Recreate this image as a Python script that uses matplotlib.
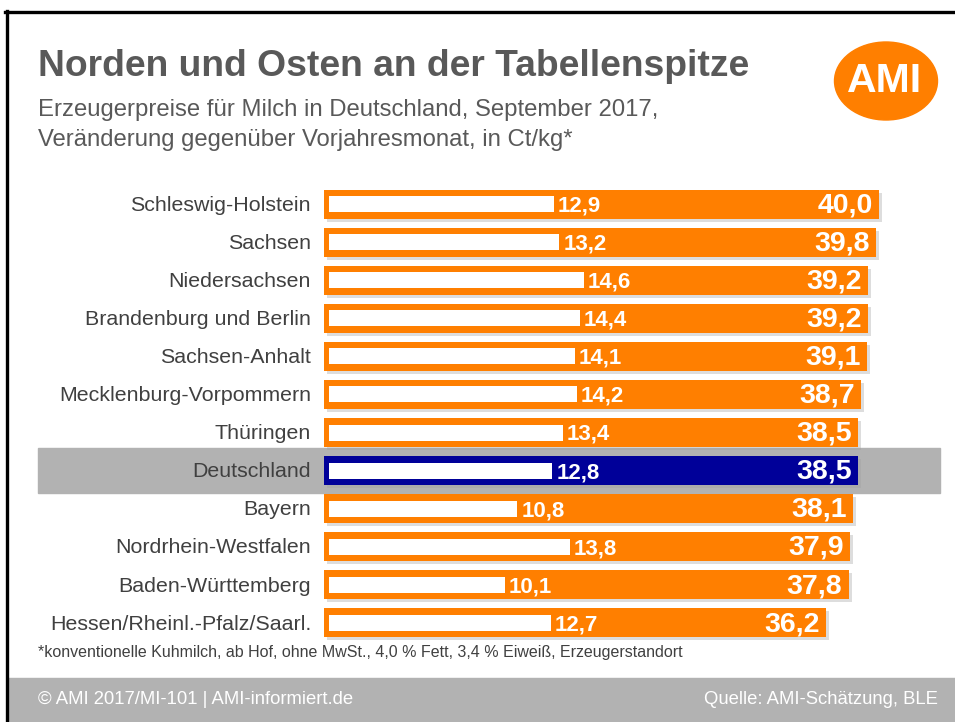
import matplotlib
matplotlib.use("Agg")
import matplotlib.pyplot as plt
from matplotlib.patches import Rectangle, Ellipse
from matplotlib.lines import Line2D
import matplotlib.transforms as mtransforms

# ---- data ----
regions = ["Schleswig-Holstein", "Sachsen", "Niedersachsen", "Brandenburg und Berlin",
           "Sachsen-Anhalt", "Mecklenburg-Vorpommern", "Thüringen", "Deutschland",
           "Bayern", "Nordrhein-Westfalen", "Baden-Württemberg", "Hessen/Rheinl.-Pfalz/Saarl."]
price_sep2017 = [40.0, 39.8, 39.2, 39.2, 39.1, 38.7, 38.5, 38.5, 38.1, 37.9, 37.8, 36.2]
change_vs_prev = [12.9, 13.2, 14.6, 14.4, 14.1, 14.2, 13.4, 12.8, 10.8, 13.8, 10.1, 12.7]
highlight = "Deutschland"

title = "Norden und Osten an der Tabellenspitze"
subtitle = "Erzeugerpreise für Milch in Deutschland, September 2017,\nVeränderung gegenüber Vorjahresmonat, in Ct/kg*"
footnote = "*konventionelle Kuhmilch, ab Hof, ohne MwSt., 4,0 % Fett, 3,4 % Eiweiß, Erzeugerstandort"
footer_left = "© AMI 2017/MI-101 | AMI-informiert.de"
footer_right = "Quelle: AMI-Schätzung, BLE"

plt.rcParams['font.family'] = ['Liberation Sans', 'DejaVu Sans']

W, H = 955, 722
fig = plt.figure(figsize=(W / 100, H / 100), dpi=100)
fig.patch.set_facecolor("white")

def fx(px):
    return px / W

def fy(py):
    return 1 - py / H

ORANGE = "#ff7f00"
BLUE = "#000099"
GREY_TXT = "#404040"
TITLE_C = "#595959"

# ---- frame ----
fig.add_artist(Line2D([fx(5), fx(955)], [fy(12), fy(12)], color="black", lw=2.4, transform=fig.transFigure))
fig.add_artist(Line2D([fx(7), fx(7)], [fy(11), fy(722)], color="black", lw=2.4, transform=fig.transFigure))

# ---- footer band ----
fig.add_artist(Rectangle((fx(8), 0), fx(955) - fx(8), fy(678), color="#b2b2b2",
                         transform=fig.transFigure, zorder=0))
fig.text(fx(38), fy(700), footer_left, color="white", fontsize=13.3, va="center", ha="left")
fig.text(fx(938), fy(700), footer_right, color="white", fontsize=13.3, va="center", ha="right")

# ---- title / subtitle ----
fig.text(fx(38), fy(66), title, color=TITLE_C, fontsize=26.8, fontweight="bold", va="center", ha="left")
fig.text(fx(38), fy(110), subtitle.split("\n")[0], color=TITLE_C, fontsize=17.2, va="center", ha="left")
fig.text(fx(38), fy(140), subtitle.split("\n")[1], color=TITLE_C, fontsize=17.2, va="center", ha="left")

# ---- logo ----
fig.add_artist(Ellipse((fx(886), fy(81)), fx(103), 78 / H, color=ORANGE, transform=fig.transFigure))
fig.text(fx(885), fy(81), "AMI", color="white", fontsize=29.5, fontweight="bold", va="center", ha="center")

# ---- footnote ----
fig.text(fx(38), fy(652), footnote, color=GREY_TXT, fontsize=11.5, va="center", ha="left")

# ---- bars ----
n = len(regions)
row_top, row_bot = 185, 642
left_o, right_o = 324, 900
ax = fig.add_axes([fx(left_o), fy(row_bot), fx(right_o) - fx(left_o), fy(row_top) - fy(row_bot)])
ax.set_xlim(0, (right_o - left_o) / 13.88)
ax.set_ylim(n - 0.5, -0.5)
ax.axis("off")

left_w = 329
ax2 = fig.add_axes([fx(left_w), fy(row_bot), fx(right_o) - fx(left_w), fy(row_top) - fy(row_bot)])
ax2.set_xlim(0, (right_o - left_w) / 17.45)
ax2.set_ylim(n - 0.5, -0.5)
ax2.axis("off")
ax2.patch.set_alpha(0)

ys = list(range(n))
colors = [BLUE if r == highlight else ORANGE for r in regions]

# highlight band
hi = regions.index(highlight)
band_tr = mtransforms.blended_transform_factory(fig.transFigure, ax.transData)
fig.add_artist(Rectangle((fx(38), hi - 0.6), fx(940) - fx(38), 1.2, color="#b2b2b2",
                         transform=band_tr, zorder=0))

shadow_tr = mtransforms.offset_copy(ax.transData, fig=fig, x=3, y=-3, units="dots")
ax.barh(ys, price_sep2017, height=0.76, color="#a0a0a0", alpha=0.35, transform=shadow_tr, zorder=1)
ax.barh(ys, price_sep2017, height=0.76, color=colors, zorder=2)
ax2.barh(ys, change_vs_prev, height=0.42, color="white", zorder=3)

for y, v, c, r in zip(ys, price_sep2017, change_vs_prev, regions):
    ax.text(v - 0.45, y + 0.03, f"{v:.1f}".replace(".", ","), color="white", fontsize=20.5,
            fontweight="bold", ha="right", va="center", zorder=4)
    ax2.text(c + 0.22, y + 0.05, f"{c:.1f}".replace(".", ","), color="white", fontsize=16,
             fontweight="bold", ha="left", va="center", zorder=4)
    ax.text(-13 / 13.88, y + 0.03, r, color=GREY_TXT, fontsize=15.4, ha="right", va="center")

fig.savefig("out.png", dpi=100)
